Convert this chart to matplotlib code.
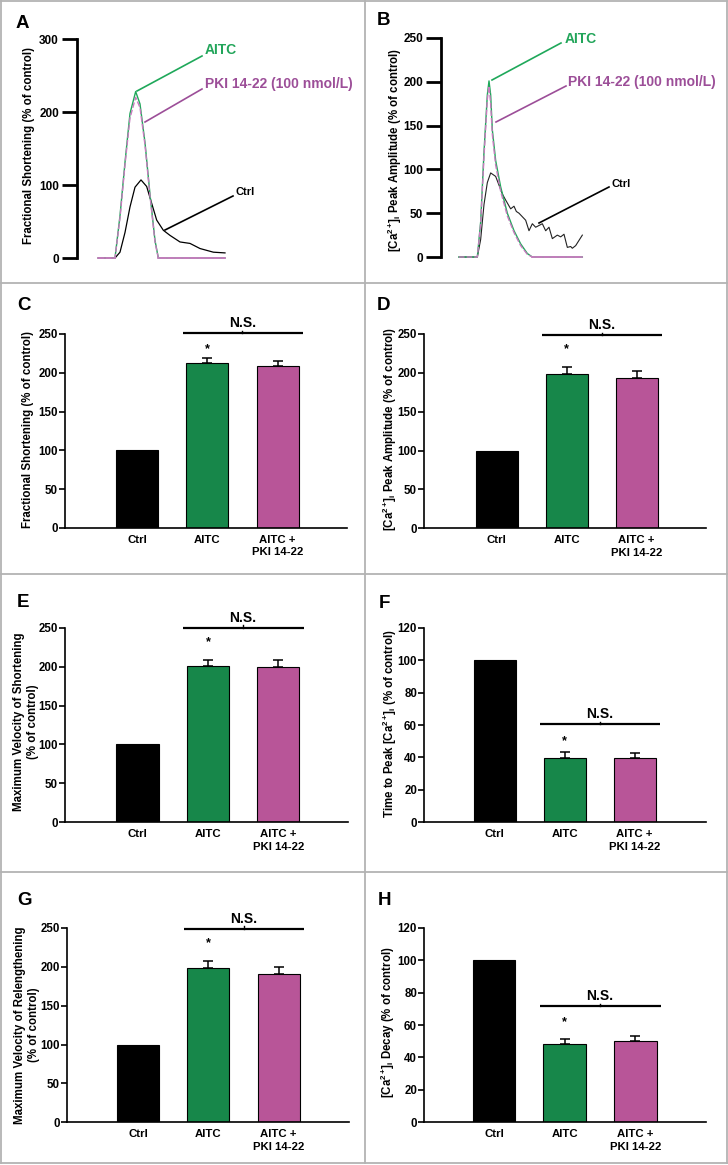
import matplotlib
matplotlib.use("Agg")
import matplotlib.pyplot as plt
from matplotlib.lines import Line2D

W, H, DPI = 728, 1165, 100

plt.rcParams['font.family'] = ['Liberation Sans', 'DejaVu Sans']
plt.rcParams['font.weight'] = 'bold'
plt.rcParams['mathtext.fontset'] = 'custom'
plt.rcParams['mathtext.rm'] = 'Liberation Sans:bold'
plt.rcParams['mathtext.it'] = 'Liberation Sans:bold'
plt.rcParams['mathtext.bf'] = 'Liberation Sans:bold'

# ---------------- data ----------------
# Panel A traces (time in arbitrary units)
a_time_aitc = [0, 50, 65, 80, 95, 112, 125, 140, 155, 170, 180, 380]
a_aitc = [0, 0, 58, 131, 198, 228, 211, 158, 87, 24, 0, 0]
a_pki = [0, 0, 55, 128, 192, 220, 206, 155, 85, 22, 0, 0]
a_time_ctrl = [0, 50, 65, 80, 95, 110, 128, 145, 160, 175, 195, 215, 245, 275, 305, 345, 380]
a_ctrl = [0, 0, 8, 35, 70, 97, 107, 98, 75, 52, 38, 31, 22, 20, 13, 8, 7]

# Panel B traces
b_time_aitc = [0, 55, 65, 75, 85, 90, 95, 100, 110, 125, 145, 165, 185, 205, 220, 370]
b_aitc = [0, 0, 40, 120, 185, 201, 185, 145, 110, 80, 50, 30, 15, 4, 0, 0]
b_pki = [0, 0, 38, 115, 180, 195, 175, 140, 105, 75, 47, 28, 13, 3, 0, 0]
b_time_ctrl = [0, 55, 65, 75, 85, 95, 110, 120, 130, 140, 155, 165, 172, 180, 190, 200, 210,
               220, 230, 240, 250, 260, 270, 280, 295, 305, 315, 325, 335, 340, 350, 360, 370]
b_ctrl = [0, 0, 20, 60, 85, 96, 92, 82, 72, 65, 55, 58, 52, 50, 46, 42, 30,
          38, 34, 36, 38, 30, 34, 21, 25, 23, 26, 11, 12, 10, 13, 19, 25]

# Bar panels
categories = ['Ctrl', 'AITC', 'AITC +\nPKI 14-22']
c_mean = [100, 212, 209]
c_err = [0, 6.5, 6]
d_mean = [100, 198, 193]
d_err = [0, 9, 10]
e_mean = [100, 201, 199]
e_err = [0, 8, 9]
f_mean = [100, 39.5, 39.5]
f_err = [0, 3.7, 3]
g_mean = [100, 198.5, 191]
g_err = [0, 9.5, 8.4]
h_mean = [100, 48.3, 50]
h_err = [0, 3, 3.2]

bar_colors = ['#000000', '#17874A', '#B85598']
green_line = '#1FA85A'
pink_line = '#C77BBE'
green_txt = '#22A55A'
purple_txt = '#9C4E98'

CA = r'[Ca$^{2+}\!$]$_i$'

fig = plt.figure(figsize=(W / DPI, H / DPI), dpi=DPI)


def px_axes(left, top, right, bottom):
    return fig.add_axes([left / W, 1 - bottom / H, (right - left) / W, (bottom - top) / H])


def ftext(x, y, s, **kw):
    return fig.text(x / W, 1 - y / H, s, **kw)


def fline(x0, y0, x1, y1, **kw):
    fig.add_artist(Line2D([x0 / W, x1 / W], [1 - y0 / H, 1 - y1 / H], **kw))


# ---------------- borders ----------------
bc = '#B3B3B3'
for (x0, y0, x1, y1) in [(1, 1, 727, 1), (1, 1163, 727, 1163), (1, 1, 1, 1163), (727, 1, 727, 1163),
                         (365, 1, 365, 1163), (1, 283, 727, 283), (1, 573.5, 727, 573.5),
                         (1, 872, 727, 872)]:
    fline(x0, y0, x1, y1, color=bc, lw=1.3)


# ---------------- trace panels ----------------
def trace_panel(box, xlim, ymax, yticks):
    ax = px_axes(*box)
    ax.set_xlim(*xlim)
    ax.set_ylim(-ymax * 0.02, ymax)
    for s in ['top', 'right', 'bottom']:
        ax.spines[s].set_visible(False)
    ax.spines['left'].set_bounds(0, ymax)
    ax.spines['left'].set_linewidth(2)
    ax.set_xticks([])
    ax.set_yticks(yticks)
    ax.tick_params(axis='y', length=11, width=2, labelsize=8.5, pad=2)
    for lab in ax.get_yticklabels():
        lab.set_fontweight('bold')
    return ax


axA = trace_panel((77, 39, 360, 262.4), (-64, 785), 300, [0, 100, 200, 300])
axA.plot(a_time_ctrl, a_ctrl, color='black', lw=0.9, clip_on=False)
axA.plot(a_time_aitc, a_aitc, color=green_line, lw=1.0, clip_on=False)
axA.plot(a_time_aitc, a_pki, color=pink_line, lw=1.0, ls=(0, (4, 1.5)), clip_on=False)
axA.plot([a_time_aitc[-2], a_time_aitc[-1]], [a_pki[-2], a_pki[-1]], color=pink_line, lw=1.2, clip_on=False)
axA.plot([a_time_aitc[0], a_time_aitc[1]], [a_pki[0], a_pki[1]], color=pink_line, lw=1.2, clip_on=False)

fline(137, 91, 202, 56, color=green_line, lw=1.2)
fline(145, 122, 202, 89, color=purple_txt, lw=1.2)
fline(165, 230, 233, 196, color='black', lw=1.2)
ftext(205, 50, 'AITC', color=green_txt, fontsize=10, fontweight='bold', ha='left', va='center')
ftext(205, 84, 'PKI 14-22 (100 nmol/L)', color=purple_txt, fontsize=10, fontweight='bold', ha='left', va='center')
ftext(236, 192, 'Ctrl', color='black', fontsize=8, fontweight='bold', ha='left', va='center')
ftext(29, 146, 'Fractional Shortening (% of control)', fontsize=8.3, fontweight='bold',
      rotation=90, ha='center', va='center')

axB = trace_panel((441, 38, 720, 261.4), (-54, 783), 250, [0, 50, 100, 150, 200, 250])
axB.plot(b_time_ctrl, b_ctrl, color='#222222', lw=0.8, clip_on=False)
axB.plot(b_time_aitc, b_aitc, color=green_line, lw=1.0, clip_on=False)
axB.plot(b_time_aitc, b_pki, color=pink_line, lw=1.0, ls=(0, (4, 1.5)), clip_on=False)
axB.plot([b_time_aitc[-2], b_time_aitc[-1]], [b_pki[-2], b_pki[-1]], color=pink_line, lw=1.2, clip_on=False)

fline(492, 80, 561, 43, color=green_line, lw=1.2)
fline(496, 122, 566, 86, color=purple_txt, lw=1.2)
fline(539, 223, 609, 187, color='black', lw=1.2)
ftext(565, 39, 'AITC', color=green_txt, fontsize=10, fontweight='bold', ha='left', va='center')
ftext(568, 82, 'PKI 14-22 (100 nmol/L)', color=purple_txt, fontsize=10, fontweight='bold', ha='left', va='center')
ftext(611, 184, 'Ctrl', color='black', fontsize=8, fontweight='bold', ha='left', va='center')
ftext(395, 150, CA + ' Peak Amplitude (% of control)', fontsize=8.3, fontweight='bold',
      rotation=90, ha='center', va='center')


# ---------------- bar panels ----------------
def bar_panel(box, xlim, ymax, ystep, means, errs, ns_y, star_y):
    ax = px_axes(*box)
    x = list(range(len(categories)))
    ax.bar(x, means, width=0.6, color=bar_colors, edgecolor='black', linewidth=0.8, zorder=2)
    for i in range(1, len(means)):
        ax.errorbar([x[i]], [means[i]], yerr=[[0], [errs[i]]], fmt='none', ecolor='black',
                    elinewidth=1.1, capsize=3.5, capthick=1.1, zorder=3)
    ax.set_xlim(*xlim)
    ax.set_ylim(0, ymax)
    ax.set_yticks(list(range(0, ymax + 1, ystep)))
    ax.set_xticks(x)
    ax.set_xticklabels(categories, fontsize=8.2, fontweight='bold', linespacing=1.3)
    ax.tick_params(axis='x', length=0, pad=5)
    ax.tick_params(axis='y', length=4, width=1.2, labelsize=8.3, pad=1)
    for lab in ax.get_yticklabels():
        lab.set_fontweight('bold')
    for s in ['top', 'right']:
        ax.spines[s].set_visible(False)
    for s in ['left', 'bottom']:
        ax.spines[s].set_linewidth(1.2)
    # significance annotation
    ax.plot([0.65, 2.36], [ns_y, ns_y], color='black', lw=1.6, clip_on=False, solid_capstyle='butt')
    ax.plot([1.5, 1.5], [ns_y, ns_y + ymax * 0.012], color='black', lw=1.0, clip_on=False)
    ax.text(1.5, ns_y + ymax * 0.015, 'N.S.', fontsize=10, fontweight='bold', ha='center', va='bottom',
            clip_on=False)
    ax.text(1, star_y, '*', fontsize=9, fontweight='bold', ha='center', va='center', clip_on=False)
    return ax


bar_panel((65, 334, 347, 528), (-1.03, 2.99), 250, 50, c_mean, c_err, 251, 230)
ftext(28, 430, 'Fractional Shortening (% of control)', fontsize=8.3, fontweight='bold',
      rotation=90, ha='center', va='center')

bar_panel((424, 334, 706, 528.3), (-1.04, 2.99), 250, 50, d_mean, d_err, 248.7, 231)
ftext(390, 429, CA + ' Peak Amplitude (% of control)', fontsize=8.3, fontweight='bold',
      rotation=90, ha='center', va='center')

bar_panel((65, 627.7, 348, 822.3), (-1.03, 2.99), 250, 50, e_mean, e_err, 250, 232)
ftext(26, 722, 'Maximum Velocity of Shortening\n(% of control)', fontsize=8.3, fontweight='bold',
      rotation=90, ha='center', va='center', linespacing=1.15)

bar_panel((424, 627.7, 706, 822.3), (-1.01, 3.02), 120, 20, f_mean, f_err, 60.4, 50)
ftext(390, 724, 'Time to Peak ' + CA + ' (% of control)', fontsize=8.3, fontweight='bold',
      rotation=90, ha='center', va='center')

bar_panel((67, 928, 349, 1122.3), (-1.01, 3.0), 250, 50, g_mean, g_err, 249, 231)
ftext(27, 1025, 'Maximum Velocity of Relengthening\n(% of control)', fontsize=8.3, fontweight='bold',
      rotation=90, ha='center', va='center', linespacing=1.15)

bar_panel((424, 927.7, 706, 1122.3), (-0.99, 3.0), 120, 20, h_mean, h_err, 71.7, 62)
ftext(388, 1022, CA + ' Decay (% of control)', fontsize=8.3, fontweight='bold',
      rotation=90, ha='center', va='center')

# ---------------- panel letters ----------------
for letter, x, y in [('A', 16, 28), ('B', 377, 25), ('C', 17, 310), ('D', 377, 310),
                     ('E', 17, 607), ('F', 379, 608), ('G', 17, 905), ('H', 378, 905)]:
    ftext(x, y, letter, fontsize=13.5, fontweight='bold', ha='left', va='baseline')

fig.savefig('out.png', dpi=DPI)
